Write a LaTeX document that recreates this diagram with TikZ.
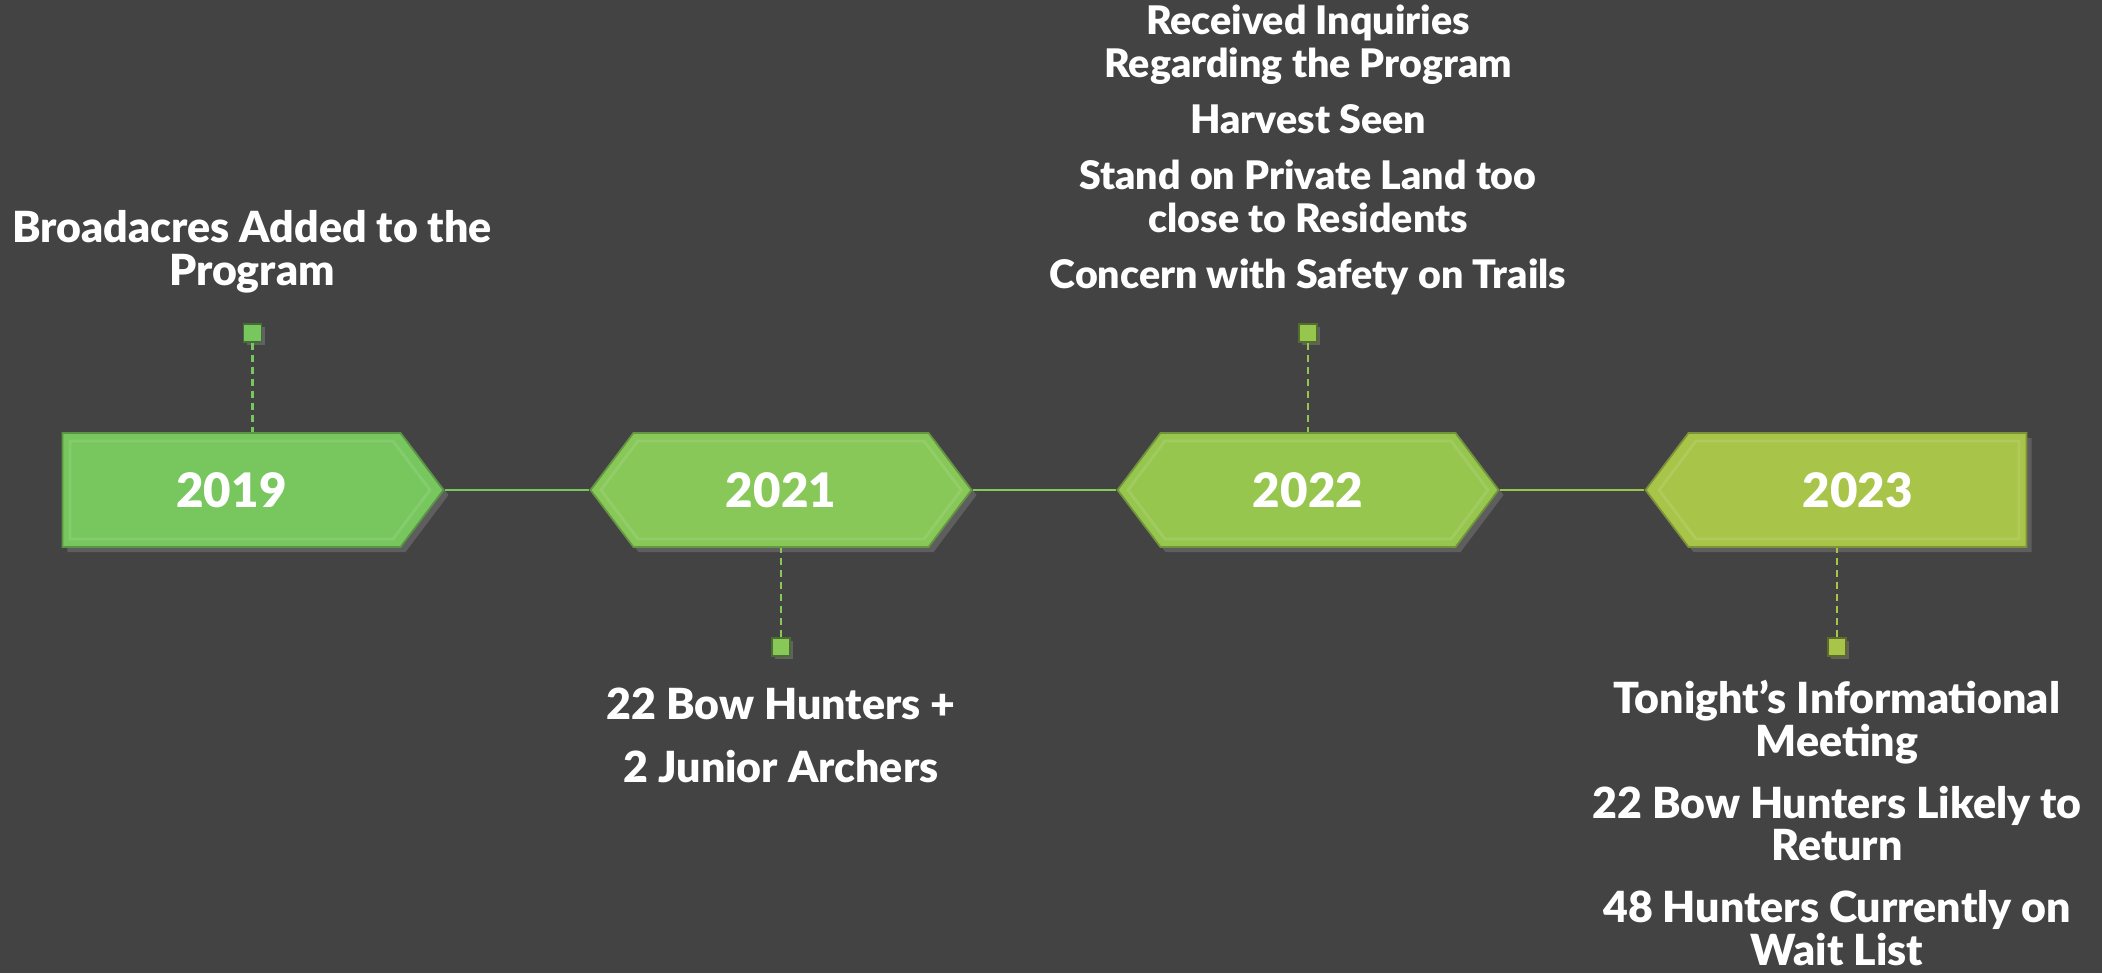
\documentclass[tikz,border=0pt]{standalone}
\usepackage{fontspec}
\setmainfont{Lato}[BoldFont={Lato Black}]
\usetikzlibrary{shapes.symbols, shadows, positioning}

\definecolor{bg}{HTML}{434343}
\definecolor{gA}{HTML}{78C75E}
\definecolor{gB}{HTML}{87C858}
\definecolor{gC}{HTML}{97C64F}
\definecolor{gD}{HTML}{A8C449}

\tikzset{
  year/.style={signal, signal pointer angle=106, minimum width=3.81cm,
    minimum height=1.14cm, inner sep=0pt, draw=#1!75!black, line width=0.5pt,
    fill=#1, text=white, font=\fontsize{13.5}{16}\selectfont\bfseries,
    drop shadow={opacity=0.45, shadow xshift=0.05cm, shadow yshift=-0.05cm}},
  bevel/.style={signal, signal pointer angle=106, minimum width=3.6cm,
    minimum height=0.98cm, inner sep=0pt, draw=white, draw opacity=0.1,
    line width=0.8pt},
  marker/.style={rectangle, minimum size=0.18cm, inner sep=0pt,
    draw=#1!55!black, line width=0.4pt, fill=#1,
    drop shadow={opacity=0.5, shadow xshift=0.03cm, shadow yshift=-0.03cm}},
  stem/.style={draw=#1, dash pattern=on 0.07cm off 0.05cm, line width=0.6pt},
  link/.style={draw=#1, line width=0.6pt},
  event/.style={text=white, align=center, inner sep=1pt,
    font=\fontsize{12.2}{12.2}\selectfont\bfseries}
}

\begin{document}
\begin{tikzpicture}
    \fill[bg] (0,0) rectangle (21.02,-9.73);
    \useasboundingbox (0,0) rectangle (21.02,-9.73);

    % year boxes (one-sided signals sit off their centre)
    \node[year=gA, signal to=east] (y2019) at (2.315, -4.90) {2019};
    \node[year=gB, signal to=east and west] (y2021) at (7.81, -4.90) {2021};
    \node[year=gC, signal to=east and west] (y2022) at (13.08, -4.90) {2022};
    \node[year=gD, signal to=west] (y2023) at (18.575, -4.90) {2023};

    \node[bevel, signal to=east] (b2019) at (y2019) {};
    \node[bevel, signal to=east and west] (b2021) at (y2021) {};
    \node[bevel, signal to=east and west] (b2022) at (y2022) {};
    \node[bevel, signal to=west] (b2023) at (y2023) {};

    \draw[link=gA] (y2019.east) -- (y2021.west);
    \draw[link=gB] (y2021.east) -- (y2022.west);
    \draw[link=gC] (y2022.east) -- (y2023.west);

    % markers on the stems
    \node[marker=gA] (m2019) at (2.525, -3.33) {};
    \node[marker=gB] (m2021) at (7.81, -6.47) {};
    \node[marker=gC] (m2022) at (13.08, -3.33) {};
    \node[marker=gD] (m2023) at (18.37, -6.47) {};

    \draw[stem=gA] (m2019.south) -- (m2019.south |- y2019.north);
    \draw[stem=gB] (m2021.north) -- (m2021.north |- y2021.south);
    \draw[stem=gC] (m2022.south) -- (m2022.south |- y2022.north);
    \draw[stem=gD] (m2023.north) -- (m2023.north |- y2023.south);

    % event texts
    \node[event] (t2019) at (2.52, -2.52) {Broadacres Added to the\\Program};
    \node[event] (t2021) at (7.81, -7.35) {22 Bow Hunters +\\[0.2cm]2 Junior Archers};
    \node[event, font=\fontsize{11.2}{12.2}\selectfont\bfseries] (t2022) at (13.08, -1.50)
        {Received Inquiries\\Regarding the Program\\[0.13cm]
        Harvest Seen\\[0.13cm]Stand on Private Land too\\close to Residents\\[0.13cm]
        Concern with Safety on Trails};
    \node[event] (t2023) at (18.37, -8.23) {Tonight’s Informational\\Meeting\\[0.19cm]
        22 Bow Hunters Likely to\\Return\\[0.19cm]48 Hunters Currently on\\Wait List};
\end{tikzpicture}
\end{document}
